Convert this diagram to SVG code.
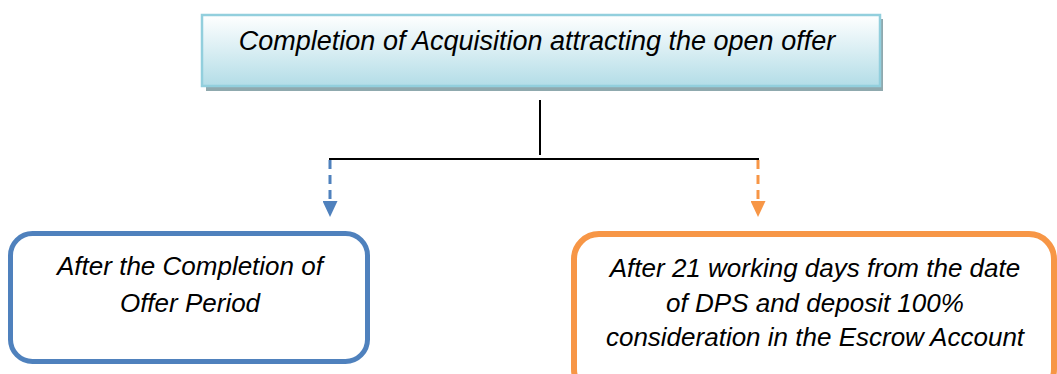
<svg xmlns="http://www.w3.org/2000/svg" width="1057" height="374" viewBox="0 0 1057 374">
  <defs>
    <linearGradient id="topFill" x1="0" y1="0" x2="0" y2="1">
      <stop offset="0" stop-color="#ffffff"/>
      <stop offset="1" stop-color="#b3dde7"/>
    </linearGradient>
    <marker id="arrBlue" viewBox="0 0 10 10" refX="0" refY="5" markerWidth="16" markerHeight="15" markerUnits="userSpaceOnUse" orient="auto" preserveAspectRatio="none">
      <path d="M0,0 L10,5 L0,10 Z" fill="#4f81bd"/>
    </marker>
    <marker id="arrOrange" viewBox="0 0 10 10" refX="0" refY="5" markerWidth="16" markerHeight="15" markerUnits="userSpaceOnUse" orient="auto" preserveAspectRatio="none">
      <path d="M0,0 L10,5 L0,10 Z" fill="#f79646"/>
    </marker>
  </defs>
  <style>
    .lbl { font-family: "Liberation Sans", Arial, sans-serif; font-style: italic; fill: #000000; text-anchor: middle; }
    .big { font-size: 26px; }
    .top { font-size: 27px; }
    .solid { stroke: #000000; stroke-width: 2; fill: none; }
    .dash { stroke-width: 3; fill: none; stroke-dasharray: 9 6; }
  </style>
  <rect width="1057" height="374" fill="#ffffff"/>

  <g id="node-top">
    <rect x="206" y="19" width="677" height="72" fill="#8fa9ae"/>
    <rect x="202" y="15" width="678" height="71" fill="url(#topFill)" stroke="#92cfdd" stroke-width="2.5"/>
    <text class="lbl top" x="537" y="50">Completion of Acquisition attracting the open offer</text>
  </g>

  <g id="connectors">
    <line class="solid" x1="540" y1="100" x2="540" y2="155"/>
    <line class="solid" x1="329" y1="159" x2="759" y2="159"/>
    <line class="dash" x1="330" y1="160" x2="330" y2="201" stroke="#4f81bd" marker-end="url(#arrBlue)"/>
    <line class="dash" x1="758" y1="160" x2="758" y2="201" stroke="#f79646" marker-end="url(#arrOrange)"/>
  </g>

  <g id="node-left">
    <rect x="10.5" y="233.5" width="357" height="128" rx="22" ry="22" fill="#ffffff" stroke="#4f81bd" stroke-width="5"/>
    <text class="lbl big" x="190" y="275">After the Completion of</text>
    <text class="lbl big" x="190" y="312">Offer Period</text>
  </g>

  <g id="node-right">
    <rect x="574" y="234" width="480" height="160" rx="25" ry="25" fill="#ffffff" stroke="#f79646" stroke-width="6"/>
    <text class="lbl big" x="815" y="277">After 21 working days from the date</text>
    <text class="lbl big" x="815" y="312">of DPS and deposit 100%</text>
    <text class="lbl big" x="815" y="346">consideration in the Escrow Account</text>
  </g>
</svg>
